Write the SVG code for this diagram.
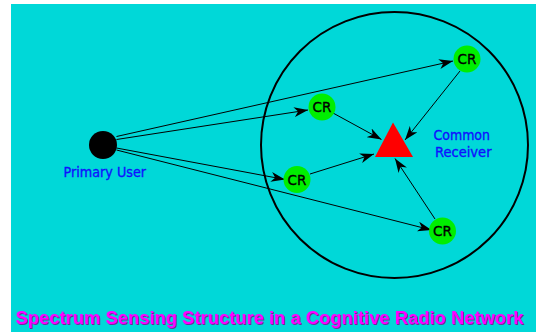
<svg xmlns="http://www.w3.org/2000/svg" width="536" height="333" viewBox="0 0 536 333">
  <style>
    .link { stroke: #000; stroke-width: 1; fill: none; marker-end: url(#head); }
    .cr circle { fill: #00ee00; }
    .cr text { font-family: "DejaVu Sans", sans-serif; font-size: 13.5px; fill: #000; stroke: #000; stroke-width: 0.35; text-anchor: middle; }
    .label { font-family: "DejaVu Sans", sans-serif; font-size: 13.5px; fill: #1010ff; stroke: #1010ff; stroke-width: 0.35; }
  </style>
  <defs>
    <marker id="head" viewBox="0 0 14 10" refX="14" refY="5" markerWidth="14" markerHeight="10" markerUnits="userSpaceOnUse" orient="auto">
      <path d="M0,0 L14,5 L0,10 L4,5 z" fill="#000"/>
    </marker>
    <filter id="shade" x="-5%" y="-30%" width="110%" height="160%">
      <feDropShadow dx="1" dy="1" stdDeviation="0.3" flood-color="#8a008a" flood-opacity="0.8"/>
    </filter>
  </defs>

  <rect x="0" y="0" width="536" height="333" fill="#fff"/>
  <rect x="11" y="4" width="525" height="328" fill="#00d8d8"/>

  <!-- coverage area of the secondary network -->
  <ellipse cx="394.5" cy="145" rx="133.5" ry="133" fill="none" stroke="#000" stroke-width="2"/>

  <g id="connectors">
    <line class="link" x1="116.5" y1="136.5" x2="453" y2="61"/>
    <line class="link" x1="116.5" y1="139.5" x2="308" y2="110"/>
    <line class="link" x1="116.5" y1="148" x2="285" y2="179.5"/>
    <line class="link" x1="116.5" y1="150" x2="431.5" y2="230"/>
    <line class="link" x1="333" y1="113" x2="381.5" y2="139.5"/>
    <line class="link" x1="460" y1="71" x2="405" y2="140"/>
    <line class="link" x1="310" y1="174" x2="374" y2="154"/>
    <line class="link" x1="435" y1="219" x2="395" y2="158.5"/>
  </g>

  <g id="primary-user">
    <circle cx="103" cy="145" r="14" fill="#000"/>
    <text class="label" x="63.5" y="177" textLength="82.5" lengthAdjust="spacingAndGlyphs">Primary User</text>
  </g>

  <g id="cr-top" class="cr">
    <circle cx="467" cy="59" r="13.5"/>
    <text x="467" y="64">CR</text>
  </g>
  <g id="cr-upper" class="cr">
    <circle cx="322" cy="107" r="13.5"/>
    <text x="322" y="112">CR</text>
  </g>
  <g id="cr-lower" class="cr">
    <circle cx="297" cy="179.5" r="13.5"/>
    <text x="297" y="184.5">CR</text>
  </g>
  <g id="cr-bottom" class="cr">
    <circle cx="442.5" cy="231" r="13.5"/>
    <text x="442.5" y="236">CR</text>
  </g>

  <g id="common-receiver">
    <polygon points="393,122.5 375,157 413,157" fill="#ff0000"/>
    <text class="label" x="433.5" y="139.5" textLength="56.5" lengthAdjust="spacingAndGlyphs">Common</text>
    <text class="label" x="435" y="156.5" textLength="56.5" lengthAdjust="spacingAndGlyphs">Receiver</text>
  </g>

  <text x="15.5" y="324" textLength="508" lengthAdjust="spacingAndGlyphs" font-family="Liberation Sans, Arial, sans-serif" font-weight="bold" font-size="18" fill="#ff00ff" filter="url(#shade)">Spectrum Sensing Structure in a Cognitive Radio Network</text>
</svg>
